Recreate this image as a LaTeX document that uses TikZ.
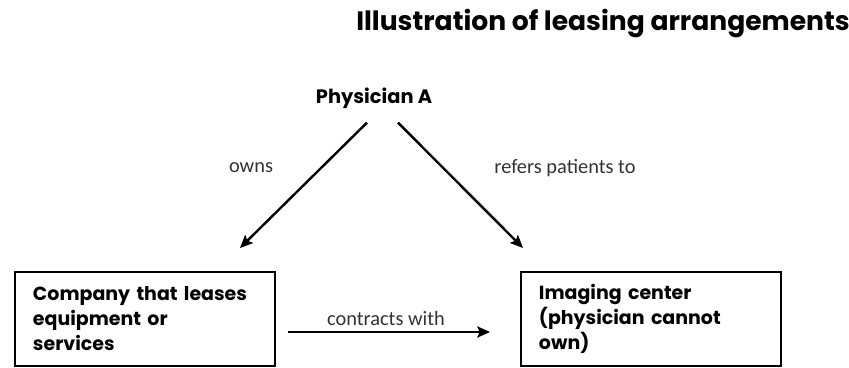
\documentclass[tikz,border=0pt]{standalone}
\usepackage{fontspec}
\setmainfont{Poppins}
\newfontfamily\edgefont{Carlito}
\usepackage{tikz}
\usetikzlibrary{calc,arrows.meta}

\tikzset{
    leasebox/.style={draw, line width=1.3pt, text width=5.6cm, inner xsep=0.45cm, inner ysep=0pt,
        minimum height=2.35cm, align=left, font=\bfseries\fontsize{13.5}{17.8}\selectfont},
    edgelabel/.style={font=\edgefont\fontsize{14.5}{16}\selectfont, text=black!80, inner sep=0pt},
}

\begin{document}
\begin{tikzpicture}[x=0.025cm,y=-0.025cm]
    \useasboundingbox (0,0) rectangle (849,368);

    \node[font=\bfseries\fontsize{18.9}{22}\selectfont] (title) at (603,24) {Illustration of leasing arrangements};
    \node[font=\bfseries\fontsize{13.8}{16}\selectfont, inner sep=0pt] (physician) at (374,98) {Physician A};

    \node[leasebox] (company) at (145,319) {Company that leases\\ equipment or\\ services};
    \node[leasebox] (imaging) at (651,319) {Imaging center\\ (physician cannot\\ own)};

    \coordinate (ownstip) at (240,248);
    \coordinate (referstip) at (523,248);

    \draw[line width=1.7pt,->,>={Stealth[length=3.2mm,width=2.8mm,inset=0.6mm]}] ($(physician.south)+(-7,14)$) -- (ownstip);
    \draw[line width=1.7pt,->,>={Stealth[length=3.2mm,width=2.8mm,inset=0.6mm]}] ($(physician.south)+(24,14)$) -- (referstip);
    \draw[line width=1.7pt,->,>={Stealth[length=3.2mm,width=2.8mm,inset=0.6mm]}] ($(company.east)+(12,13)$) -- ($(imaging.west)+(-30,13)$);

    \node[edgelabel] (owns) at (251,168) {owns};
    \node[edgelabel] (refers) at (565,168) {refers patients to};
    \node[edgelabel] (contracts) at (386,318) {contracts with};
\end{tikzpicture}
\end{document}
